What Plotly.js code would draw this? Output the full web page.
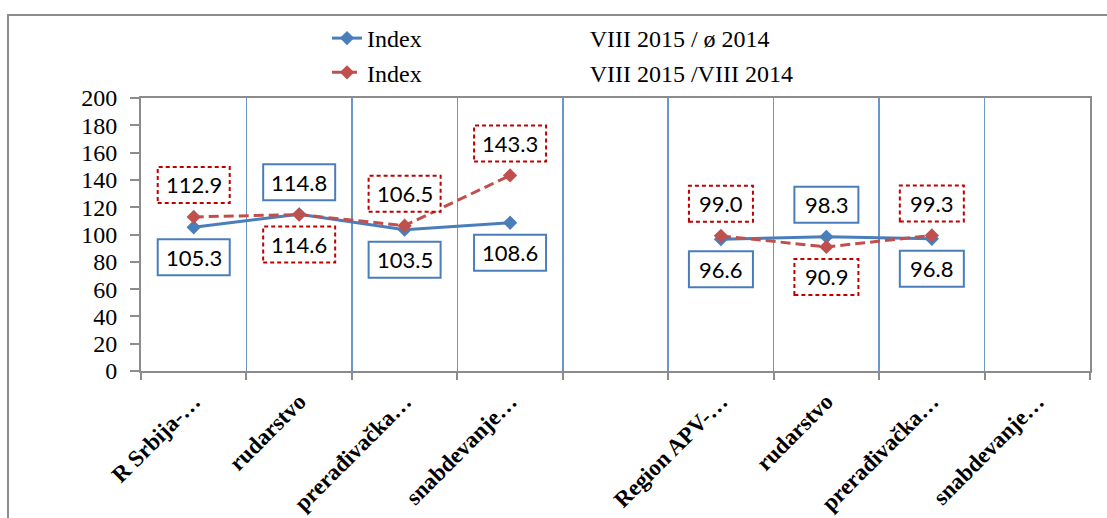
<!DOCTYPE html>
<html>
<head>
<meta charset="utf-8">
<script src="https://cdn.plot.ly/plotly-3.0.1.min.js"></script>
<style>html,body{margin:0;padding:0;background:#fff;}#chart{width:1107px;height:518px;}</style>
</head>
<body>
<div id="chart"></div>
<script>
// ---- data ----
const categories = ["R Srbija-\u2026", "rudarstvo", "prera\u0111iva\u010dka\u2026", "snabdevanje\u2026", "",
                    "Region APV-\u2026", "rudarstvo", "prera\u0111iva\u010dka\u2026", "snabdevanje\u2026"];
const seriesAvgName = "Index VIII 2015 / \u00f8 2014";
const seriesYoYName = "Index VIII 2015 /VIII 2014";
const indexVsAvg2014 = [105.3, 114.8, 103.5, 108.6, null, 96.6, 98.3, 96.8, null];
const indexVsAug2014 = [112.9, 114.6, 106.5, 143.3, null, 99.0, 90.9, 99.3, null];
const yTickValues = [0, 20, 40, 60, 80, 100, 120, 140, 160, 180, 200];

// ---- label placement (style) ----
const avgLabelSide = ["below", "above", "below", "below", null, "below", "above", "below", null];
const yoyLabelSide = ["above", "below", "above", "above", null, "above", "below", "above", null];

const blue = "#4a7ebb";
const red = "#c0504d";
const xIdx = categories.map((c, i) => i);

function legendName(s) {
  const parts = s.split(" ");
  const first = parts.shift();
  return first + "\u00a0".repeat(28) + parts.join(" ");
}

const traces = [
  {
    x: xIdx, y: indexVsAvg2014, type: "scatter", mode: "lines+markers",
    name: legendName(seriesAvgName), legendgroup: "a",
    line: {color: blue, width: 3},
    marker: {symbol: "diamond", size: 11, color: blue}
  },
  {
    x: xIdx, y: indexVsAug2014, type: "scatter", mode: "lines+markers",
    name: legendName(seriesYoYName), legendgroup: "b",
    line: {color: red, width: 3, dash: "10px,5px"},
    marker: {symbol: "diamond", size: 11, color: red}
  }
];

const annotations = [];
const shapes = [];
function addLabels(vals, sides, color, dash) {
  vals.forEach((v, i) => {
    if (v === null) return;
    const txt = v.toFixed(1);
    const off = sides[i] === "above" ? 32 : -30;
    const hw = txt.length >= 5 ? 36 : 32;
    shapes.push({
      type: "rect", xref: "x", yref: "y", xsizemode: "pixel", ysizemode: "pixel",
      xanchor: i, yanchor: v, x0: -hw, x1: hw, y0: off - 18, y1: off + 18,
      line: {color: color, width: 2, dash: dash}, fillcolor: "#ffffff", layer: "above"
    });
    annotations.push({
      x: i, y: v, xref: "x", yref: "y", text: txt, showarrow: false,
      yshift: off, font: {family: "Lato, 'Open Sans', sans-serif", size: 22, color: "#000"}
    });
  });
}
addLabels(indexVsAvg2014, avgLabelSide, blue, "solid");
addLabels(indexVsAug2014, yoyLabelSide, "#c00000", "4px,3px");

// outer chart border
shapes.push({
  type: "rect", xref: "paper", yref: "paper",
  x0: (8 - 141) / 949, x1: (1115 - 141) / 949, y0: (371 - 530) / 273, y1: (371 - 15) / 273,
  line: {color: "#8c8c8c", width: 2}, fillcolor: "rgba(0,0,0,0)", layer: "below"
});

const layout = {
  width: 1107, height: 518,
  margin: {l: 141, r: 17, t: 98, b: 147},
  paper_bgcolor: "#fff", plot_bgcolor: "#fff",
  showlegend: true,
  legend: {
    x: (327 - 141) / 949, xanchor: "left", y: (371 - 16) / 273, yanchor: "top",
    orientation: "v", tracegroupgap: 0,
    font: {family: "'Liberation Serif', 'Times New Roman', serif", size: 24, color: "#000"},
    bgcolor: "rgba(0,0,0,0)"
  },
  xaxis: {
    range: [-0.5, 8.5], tickmode: "array", tickvals: xIdx, ticktext: categories,
    tickangle: -45, ticks: "", showgrid: false, zeroline: false,
    showline: true, linecolor: "#8c8c8c", linewidth: 2, mirror: true,
    ticklabelstandoff: 6,
    tickfont: {family: "'Liberation Serif', 'Times New Roman', serif", size: 23, color: "#000", weight: "bold"},
    minor: {tickmode: "linear", tick0: -0.5, dtick: 1, ticks: "outside", ticklen: 7, tickwidth: 2,
            tickcolor: "#8c8c8c", showgrid: true, gridcolor: "#6a96cc", gridwidth: 1.5}
  },
  yaxis: {
    range: [0, 200], tickmode: "array", tickvals: yTickValues,
    ticks: "outside", ticklen: 9, tickwidth: 2, tickcolor: "#8c8c8c",
    showgrid: false, zeroline: false,
    showline: true, linecolor: "#8c8c8c", linewidth: 2, mirror: true,
    ticklabelstandoff: 8,
    tickfont: {family: "'Liberation Serif', 'Times New Roman', serif", size: 24, color: "#000"}
  },
  annotations: annotations,
  shapes: shapes
};

Plotly.newPlot("chart", traces, layout, {displayModeBar: false, staticPlot: true});
</script>
</body>
</html>
